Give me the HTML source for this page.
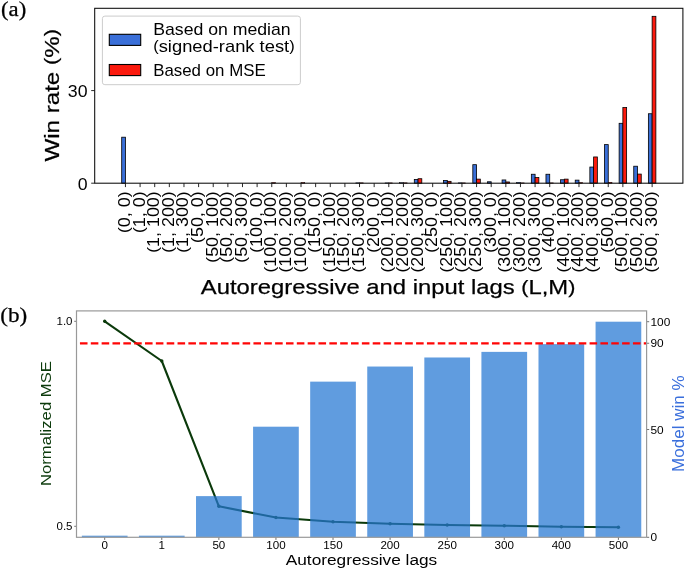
<!DOCTYPE html>
<html><head><meta charset="utf-8"><title>figure</title>
<style>html,body{margin:0;padding:0;background:#fff;}svg{display:block;will-change:transform;}</style></head>
<body><svg width="685" height="569" viewBox="0 0 685 569">
<rect x="121.70" y="137.20" width="3.75" height="46.00" fill="#3a6fd8" stroke="#000" stroke-width="0.8"/>
<rect x="271.75" y="182.58" width="3.75" height="0.62" fill="#fb1a0e" stroke="#000" stroke-width="0.5"/>
<rect x="301.01" y="182.52" width="3.75" height="0.68" fill="#fb1a0e" stroke="#000" stroke-width="0.5"/>
<rect x="355.78" y="182.83" width="3.75" height="0.37" fill="#3a6fd8" stroke="#000" stroke-width="0.5"/>
<rect x="359.53" y="182.83" width="3.75" height="0.37" fill="#fb1a0e" stroke="#000" stroke-width="0.5"/>
<rect x="385.04" y="182.89" width="3.75" height="0.31" fill="#3a6fd8" stroke="#000" stroke-width="0.5"/>
<rect x="388.79" y="182.89" width="3.75" height="0.31" fill="#fb1a0e" stroke="#000" stroke-width="0.5"/>
<rect x="399.67" y="182.74" width="3.75" height="0.46" fill="#3a6fd8" stroke="#000" stroke-width="0.5"/>
<rect x="403.42" y="182.83" width="3.75" height="0.37" fill="#fb1a0e" stroke="#000" stroke-width="0.5"/>
<rect x="414.30" y="179.50" width="3.75" height="3.70" fill="#3a6fd8" stroke="#000" stroke-width="0.8"/>
<rect x="418.05" y="178.72" width="3.75" height="4.48" fill="#fb1a0e" stroke="#000" stroke-width="0.8"/>
<rect x="443.56" y="180.55" width="3.75" height="2.65" fill="#3a6fd8" stroke="#000" stroke-width="0.8"/>
<rect x="447.31" y="181.35" width="3.75" height="1.85" fill="#fb1a0e" stroke="#000" stroke-width="0.8"/>
<rect x="458.19" y="182.83" width="3.75" height="0.37" fill="#3a6fd8" stroke="#000" stroke-width="0.5"/>
<rect x="461.94" y="182.89" width="3.75" height="0.31" fill="#fb1a0e" stroke="#000" stroke-width="0.5"/>
<rect x="472.82" y="164.68" width="3.75" height="18.52" fill="#3a6fd8" stroke="#000" stroke-width="0.8"/>
<rect x="476.57" y="179.13" width="3.75" height="4.07" fill="#fb1a0e" stroke="#000" stroke-width="0.8"/>
<rect x="487.45" y="181.78" width="3.75" height="1.42" fill="#3a6fd8" stroke="#000" stroke-width="0.8"/>
<rect x="502.08" y="179.96" width="3.75" height="3.24" fill="#3a6fd8" stroke="#000" stroke-width="0.8"/>
<rect x="505.83" y="181.97" width="3.75" height="1.23" fill="#fb1a0e" stroke="#000" stroke-width="0.8"/>
<rect x="516.71" y="182.27" width="3.75" height="0.93" fill="#3a6fd8" stroke="#000" stroke-width="0.5"/>
<rect x="520.46" y="182.89" width="3.75" height="0.31" fill="#fb1a0e" stroke="#000" stroke-width="0.5"/>
<rect x="531.34" y="174.25" width="3.75" height="8.95" fill="#3a6fd8" stroke="#000" stroke-width="0.8"/>
<rect x="535.09" y="177.49" width="3.75" height="5.71" fill="#fb1a0e" stroke="#000" stroke-width="0.8"/>
<rect x="545.97" y="174.25" width="3.75" height="8.95" fill="#3a6fd8" stroke="#000" stroke-width="0.8"/>
<rect x="549.72" y="182.89" width="3.75" height="0.31" fill="#fb1a0e" stroke="#000" stroke-width="0.5"/>
<rect x="560.60" y="179.74" width="3.75" height="3.46" fill="#3a6fd8" stroke="#000" stroke-width="0.8"/>
<rect x="564.35" y="179.13" width="3.75" height="4.07" fill="#fb1a0e" stroke="#000" stroke-width="0.8"/>
<rect x="575.23" y="180.14" width="3.75" height="3.06" fill="#3a6fd8" stroke="#000" stroke-width="0.8"/>
<rect x="578.98" y="182.58" width="3.75" height="0.62" fill="#fb1a0e" stroke="#000" stroke-width="0.5"/>
<rect x="589.86" y="167.05" width="3.75" height="16.15" fill="#3a6fd8" stroke="#000" stroke-width="0.8"/>
<rect x="593.61" y="156.96" width="3.75" height="26.24" fill="#fb1a0e" stroke="#000" stroke-width="0.8"/>
<rect x="604.49" y="144.61" width="3.75" height="38.59" fill="#3a6fd8" stroke="#000" stroke-width="0.8"/>
<rect x="608.24" y="182.27" width="3.75" height="0.93" fill="#fb1a0e" stroke="#000" stroke-width="0.5"/>
<rect x="619.12" y="123.31" width="3.75" height="59.89" fill="#3a6fd8" stroke="#000" stroke-width="0.8"/>
<rect x="622.87" y="107.57" width="3.75" height="75.63" fill="#fb1a0e" stroke="#000" stroke-width="0.8"/>
<rect x="633.75" y="166.22" width="3.75" height="16.98" fill="#3a6fd8" stroke="#000" stroke-width="0.8"/>
<rect x="637.50" y="174.09" width="3.75" height="9.11" fill="#fb1a0e" stroke="#000" stroke-width="0.8"/>
<rect x="648.38" y="113.74" width="3.75" height="69.46" fill="#3a6fd8" stroke="#000" stroke-width="0.8"/>
<rect x="652.13" y="16.32" width="3.75" height="166.88" fill="#fb1a0e" stroke="#000" stroke-width="0.8"/>
<rect x="94.7" y="8.3" width="588.20" height="174.90" fill="none" stroke="#0a0a0a" stroke-width="1.05"/>
<line x1="125.45" y1="183.2" x2="125.45" y2="187.1" stroke="#111" stroke-width="0.9"/>
<text x="0" y="0" transform="translate(129.95,191.40) rotate(-90)" font-family="Liberation Sans, sans-serif" font-size="16" text-anchor="end" fill="#000" textLength="41.66" lengthAdjust="spacingAndGlyphs"><tspan font-size="15.52" dy="-0.91">(</tspan><tspan dy="0.91">0</tspan>, 0<tspan font-size="15.52" dy="-0.91">)</tspan></text>
<line x1="140.08" y1="183.2" x2="140.08" y2="187.1" stroke="#111" stroke-width="0.9"/>
<text x="0" y="0" transform="translate(144.58,191.40) rotate(-90)" font-family="Liberation Sans, sans-serif" font-size="16" text-anchor="end" fill="#000" textLength="41.66" lengthAdjust="spacingAndGlyphs"><tspan font-size="15.52" dy="-0.91">(</tspan><tspan dy="0.91">1</tspan>, 0<tspan font-size="15.52" dy="-0.91">)</tspan></text>
<line x1="154.71" y1="183.2" x2="154.71" y2="187.1" stroke="#111" stroke-width="0.9"/>
<text x="0" y="0" transform="translate(159.21,191.40) rotate(-90)" font-family="Liberation Sans, sans-serif" font-size="16" text-anchor="end" fill="#000" textLength="61.38" lengthAdjust="spacingAndGlyphs"><tspan font-size="15.52" dy="-0.91">(</tspan><tspan dy="0.91">1</tspan>, 100<tspan font-size="15.52" dy="-0.91">)</tspan></text>
<line x1="169.34" y1="183.2" x2="169.34" y2="187.1" stroke="#111" stroke-width="0.9"/>
<text x="0" y="0" transform="translate(173.84,191.40) rotate(-90)" font-family="Liberation Sans, sans-serif" font-size="16" text-anchor="end" fill="#000" textLength="61.38" lengthAdjust="spacingAndGlyphs"><tspan font-size="15.52" dy="-0.91">(</tspan><tspan dy="0.91">1</tspan>, 200<tspan font-size="15.52" dy="-0.91">)</tspan></text>
<line x1="183.97" y1="183.2" x2="183.97" y2="187.1" stroke="#111" stroke-width="0.9"/>
<text x="0" y="0" transform="translate(188.47,191.40) rotate(-90)" font-family="Liberation Sans, sans-serif" font-size="16" text-anchor="end" fill="#000" textLength="61.38" lengthAdjust="spacingAndGlyphs"><tspan font-size="15.52" dy="-0.91">(</tspan><tspan dy="0.91">1</tspan>, 300<tspan font-size="15.52" dy="-0.91">)</tspan></text>
<line x1="198.60" y1="183.2" x2="198.60" y2="187.1" stroke="#111" stroke-width="0.9"/>
<text x="0" y="0" transform="translate(203.10,191.40) rotate(-90)" font-family="Liberation Sans, sans-serif" font-size="16" text-anchor="end" fill="#000" textLength="51.52" lengthAdjust="spacingAndGlyphs"><tspan font-size="15.52" dy="-0.91">(</tspan><tspan dy="0.91">5</tspan>0, 0<tspan font-size="15.52" dy="-0.91">)</tspan></text>
<line x1="213.23" y1="183.2" x2="213.23" y2="187.1" stroke="#111" stroke-width="0.9"/>
<text x="0" y="0" transform="translate(217.73,191.40) rotate(-90)" font-family="Liberation Sans, sans-serif" font-size="16" text-anchor="end" fill="#000" textLength="71.24" lengthAdjust="spacingAndGlyphs"><tspan font-size="15.52" dy="-0.91">(</tspan><tspan dy="0.91">5</tspan>0, 100<tspan font-size="15.52" dy="-0.91">)</tspan></text>
<line x1="227.86" y1="183.2" x2="227.86" y2="187.1" stroke="#111" stroke-width="0.9"/>
<text x="0" y="0" transform="translate(232.36,191.40) rotate(-90)" font-family="Liberation Sans, sans-serif" font-size="16" text-anchor="end" fill="#000" textLength="71.24" lengthAdjust="spacingAndGlyphs"><tspan font-size="15.52" dy="-0.91">(</tspan><tspan dy="0.91">5</tspan>0, 200<tspan font-size="15.52" dy="-0.91">)</tspan></text>
<line x1="242.49" y1="183.2" x2="242.49" y2="187.1" stroke="#111" stroke-width="0.9"/>
<text x="0" y="0" transform="translate(246.99,191.40) rotate(-90)" font-family="Liberation Sans, sans-serif" font-size="16" text-anchor="end" fill="#000" textLength="71.24" lengthAdjust="spacingAndGlyphs"><tspan font-size="15.52" dy="-0.91">(</tspan><tspan dy="0.91">5</tspan>0, 300<tspan font-size="15.52" dy="-0.91">)</tspan></text>
<line x1="257.12" y1="183.2" x2="257.12" y2="187.1" stroke="#111" stroke-width="0.9"/>
<text x="0" y="0" transform="translate(261.62,191.40) rotate(-90)" font-family="Liberation Sans, sans-serif" font-size="16" text-anchor="end" fill="#000" textLength="61.38" lengthAdjust="spacingAndGlyphs"><tspan font-size="15.52" dy="-0.91">(</tspan><tspan dy="0.91">1</tspan>00, 0<tspan font-size="15.52" dy="-0.91">)</tspan></text>
<line x1="271.75" y1="183.2" x2="271.75" y2="187.1" stroke="#111" stroke-width="0.9"/>
<text x="0" y="0" transform="translate(276.25,191.40) rotate(-90)" font-family="Liberation Sans, sans-serif" font-size="16" text-anchor="end" fill="#000" textLength="81.10" lengthAdjust="spacingAndGlyphs"><tspan font-size="15.52" dy="-0.91">(</tspan><tspan dy="0.91">1</tspan>00, 100<tspan font-size="15.52" dy="-0.91">)</tspan></text>
<line x1="286.38" y1="183.2" x2="286.38" y2="187.1" stroke="#111" stroke-width="0.9"/>
<text x="0" y="0" transform="translate(290.88,191.40) rotate(-90)" font-family="Liberation Sans, sans-serif" font-size="16" text-anchor="end" fill="#000" textLength="81.10" lengthAdjust="spacingAndGlyphs"><tspan font-size="15.52" dy="-0.91">(</tspan><tspan dy="0.91">1</tspan>00, 200<tspan font-size="15.52" dy="-0.91">)</tspan></text>
<line x1="301.01" y1="183.2" x2="301.01" y2="187.1" stroke="#111" stroke-width="0.9"/>
<text x="0" y="0" transform="translate(305.51,191.40) rotate(-90)" font-family="Liberation Sans, sans-serif" font-size="16" text-anchor="end" fill="#000" textLength="81.10" lengthAdjust="spacingAndGlyphs"><tspan font-size="15.52" dy="-0.91">(</tspan><tspan dy="0.91">1</tspan>00, 300<tspan font-size="15.52" dy="-0.91">)</tspan></text>
<line x1="315.64" y1="183.2" x2="315.64" y2="187.1" stroke="#111" stroke-width="0.9"/>
<text x="0" y="0" transform="translate(320.14,191.40) rotate(-90)" font-family="Liberation Sans, sans-serif" font-size="16" text-anchor="end" fill="#000" textLength="61.38" lengthAdjust="spacingAndGlyphs"><tspan font-size="15.52" dy="-0.91">(</tspan><tspan dy="0.91">1</tspan>50, 0<tspan font-size="15.52" dy="-0.91">)</tspan></text>
<line x1="330.27" y1="183.2" x2="330.27" y2="187.1" stroke="#111" stroke-width="0.9"/>
<text x="0" y="0" transform="translate(334.77,191.40) rotate(-90)" font-family="Liberation Sans, sans-serif" font-size="16" text-anchor="end" fill="#000" textLength="81.10" lengthAdjust="spacingAndGlyphs"><tspan font-size="15.52" dy="-0.91">(</tspan><tspan dy="0.91">1</tspan>50, 100<tspan font-size="15.52" dy="-0.91">)</tspan></text>
<line x1="344.90" y1="183.2" x2="344.90" y2="187.1" stroke="#111" stroke-width="0.9"/>
<text x="0" y="0" transform="translate(349.40,191.40) rotate(-90)" font-family="Liberation Sans, sans-serif" font-size="16" text-anchor="end" fill="#000" textLength="81.10" lengthAdjust="spacingAndGlyphs"><tspan font-size="15.52" dy="-0.91">(</tspan><tspan dy="0.91">1</tspan>50, 200<tspan font-size="15.52" dy="-0.91">)</tspan></text>
<line x1="359.53" y1="183.2" x2="359.53" y2="187.1" stroke="#111" stroke-width="0.9"/>
<text x="0" y="0" transform="translate(364.03,191.40) rotate(-90)" font-family="Liberation Sans, sans-serif" font-size="16" text-anchor="end" fill="#000" textLength="81.10" lengthAdjust="spacingAndGlyphs"><tspan font-size="15.52" dy="-0.91">(</tspan><tspan dy="0.91">1</tspan>50, 300<tspan font-size="15.52" dy="-0.91">)</tspan></text>
<line x1="374.16" y1="183.2" x2="374.16" y2="187.1" stroke="#111" stroke-width="0.9"/>
<text x="0" y="0" transform="translate(378.66,191.40) rotate(-90)" font-family="Liberation Sans, sans-serif" font-size="16" text-anchor="end" fill="#000" textLength="61.38" lengthAdjust="spacingAndGlyphs"><tspan font-size="15.52" dy="-0.91">(</tspan><tspan dy="0.91">2</tspan>00, 0<tspan font-size="15.52" dy="-0.91">)</tspan></text>
<line x1="388.79" y1="183.2" x2="388.79" y2="187.1" stroke="#111" stroke-width="0.9"/>
<text x="0" y="0" transform="translate(393.29,191.40) rotate(-90)" font-family="Liberation Sans, sans-serif" font-size="16" text-anchor="end" fill="#000" textLength="81.10" lengthAdjust="spacingAndGlyphs"><tspan font-size="15.52" dy="-0.91">(</tspan><tspan dy="0.91">2</tspan>00, 100<tspan font-size="15.52" dy="-0.91">)</tspan></text>
<line x1="403.42" y1="183.2" x2="403.42" y2="187.1" stroke="#111" stroke-width="0.9"/>
<text x="0" y="0" transform="translate(407.92,191.40) rotate(-90)" font-family="Liberation Sans, sans-serif" font-size="16" text-anchor="end" fill="#000" textLength="81.10" lengthAdjust="spacingAndGlyphs"><tspan font-size="15.52" dy="-0.91">(</tspan><tspan dy="0.91">2</tspan>00, 200<tspan font-size="15.52" dy="-0.91">)</tspan></text>
<line x1="418.05" y1="183.2" x2="418.05" y2="187.1" stroke="#111" stroke-width="0.9"/>
<text x="0" y="0" transform="translate(422.55,191.40) rotate(-90)" font-family="Liberation Sans, sans-serif" font-size="16" text-anchor="end" fill="#000" textLength="81.10" lengthAdjust="spacingAndGlyphs"><tspan font-size="15.52" dy="-0.91">(</tspan><tspan dy="0.91">2</tspan>00, 300<tspan font-size="15.52" dy="-0.91">)</tspan></text>
<line x1="432.68" y1="183.2" x2="432.68" y2="187.1" stroke="#111" stroke-width="0.9"/>
<text x="0" y="0" transform="translate(437.18,191.40) rotate(-90)" font-family="Liberation Sans, sans-serif" font-size="16" text-anchor="end" fill="#000" textLength="61.38" lengthAdjust="spacingAndGlyphs"><tspan font-size="15.52" dy="-0.91">(</tspan><tspan dy="0.91">2</tspan>50, 0<tspan font-size="15.52" dy="-0.91">)</tspan></text>
<line x1="447.31" y1="183.2" x2="447.31" y2="187.1" stroke="#111" stroke-width="0.9"/>
<text x="0" y="0" transform="translate(451.81,191.40) rotate(-90)" font-family="Liberation Sans, sans-serif" font-size="16" text-anchor="end" fill="#000" textLength="81.10" lengthAdjust="spacingAndGlyphs"><tspan font-size="15.52" dy="-0.91">(</tspan><tspan dy="0.91">2</tspan>50, 100<tspan font-size="15.52" dy="-0.91">)</tspan></text>
<line x1="461.94" y1="183.2" x2="461.94" y2="187.1" stroke="#111" stroke-width="0.9"/>
<text x="0" y="0" transform="translate(466.44,191.40) rotate(-90)" font-family="Liberation Sans, sans-serif" font-size="16" text-anchor="end" fill="#000" textLength="81.10" lengthAdjust="spacingAndGlyphs"><tspan font-size="15.52" dy="-0.91">(</tspan><tspan dy="0.91">2</tspan>50, 200<tspan font-size="15.52" dy="-0.91">)</tspan></text>
<line x1="476.57" y1="183.2" x2="476.57" y2="187.1" stroke="#111" stroke-width="0.9"/>
<text x="0" y="0" transform="translate(481.07,191.40) rotate(-90)" font-family="Liberation Sans, sans-serif" font-size="16" text-anchor="end" fill="#000" textLength="81.10" lengthAdjust="spacingAndGlyphs"><tspan font-size="15.52" dy="-0.91">(</tspan><tspan dy="0.91">2</tspan>50, 300<tspan font-size="15.52" dy="-0.91">)</tspan></text>
<line x1="491.20" y1="183.2" x2="491.20" y2="187.1" stroke="#111" stroke-width="0.9"/>
<text x="0" y="0" transform="translate(495.70,191.40) rotate(-90)" font-family="Liberation Sans, sans-serif" font-size="16" text-anchor="end" fill="#000" textLength="61.38" lengthAdjust="spacingAndGlyphs"><tspan font-size="15.52" dy="-0.91">(</tspan><tspan dy="0.91">3</tspan>00, 0<tspan font-size="15.52" dy="-0.91">)</tspan></text>
<line x1="505.83" y1="183.2" x2="505.83" y2="187.1" stroke="#111" stroke-width="0.9"/>
<text x="0" y="0" transform="translate(510.33,191.40) rotate(-90)" font-family="Liberation Sans, sans-serif" font-size="16" text-anchor="end" fill="#000" textLength="81.10" lengthAdjust="spacingAndGlyphs"><tspan font-size="15.52" dy="-0.91">(</tspan><tspan dy="0.91">3</tspan>00, 100<tspan font-size="15.52" dy="-0.91">)</tspan></text>
<line x1="520.46" y1="183.2" x2="520.46" y2="187.1" stroke="#111" stroke-width="0.9"/>
<text x="0" y="0" transform="translate(524.96,191.40) rotate(-90)" font-family="Liberation Sans, sans-serif" font-size="16" text-anchor="end" fill="#000" textLength="81.10" lengthAdjust="spacingAndGlyphs"><tspan font-size="15.52" dy="-0.91">(</tspan><tspan dy="0.91">3</tspan>00, 200<tspan font-size="15.52" dy="-0.91">)</tspan></text>
<line x1="535.09" y1="183.2" x2="535.09" y2="187.1" stroke="#111" stroke-width="0.9"/>
<text x="0" y="0" transform="translate(539.59,191.40) rotate(-90)" font-family="Liberation Sans, sans-serif" font-size="16" text-anchor="end" fill="#000" textLength="81.10" lengthAdjust="spacingAndGlyphs"><tspan font-size="15.52" dy="-0.91">(</tspan><tspan dy="0.91">3</tspan>00, 300<tspan font-size="15.52" dy="-0.91">)</tspan></text>
<line x1="549.72" y1="183.2" x2="549.72" y2="187.1" stroke="#111" stroke-width="0.9"/>
<text x="0" y="0" transform="translate(554.22,191.40) rotate(-90)" font-family="Liberation Sans, sans-serif" font-size="16" text-anchor="end" fill="#000" textLength="61.38" lengthAdjust="spacingAndGlyphs"><tspan font-size="15.52" dy="-0.91">(</tspan><tspan dy="0.91">4</tspan>00, 0<tspan font-size="15.52" dy="-0.91">)</tspan></text>
<line x1="564.35" y1="183.2" x2="564.35" y2="187.1" stroke="#111" stroke-width="0.9"/>
<text x="0" y="0" transform="translate(568.85,191.40) rotate(-90)" font-family="Liberation Sans, sans-serif" font-size="16" text-anchor="end" fill="#000" textLength="81.10" lengthAdjust="spacingAndGlyphs"><tspan font-size="15.52" dy="-0.91">(</tspan><tspan dy="0.91">4</tspan>00, 100<tspan font-size="15.52" dy="-0.91">)</tspan></text>
<line x1="578.98" y1="183.2" x2="578.98" y2="187.1" stroke="#111" stroke-width="0.9"/>
<text x="0" y="0" transform="translate(583.48,191.40) rotate(-90)" font-family="Liberation Sans, sans-serif" font-size="16" text-anchor="end" fill="#000" textLength="81.10" lengthAdjust="spacingAndGlyphs"><tspan font-size="15.52" dy="-0.91">(</tspan><tspan dy="0.91">4</tspan>00, 200<tspan font-size="15.52" dy="-0.91">)</tspan></text>
<line x1="593.61" y1="183.2" x2="593.61" y2="187.1" stroke="#111" stroke-width="0.9"/>
<text x="0" y="0" transform="translate(598.11,191.40) rotate(-90)" font-family="Liberation Sans, sans-serif" font-size="16" text-anchor="end" fill="#000" textLength="81.10" lengthAdjust="spacingAndGlyphs"><tspan font-size="15.52" dy="-0.91">(</tspan><tspan dy="0.91">4</tspan>00, 300<tspan font-size="15.52" dy="-0.91">)</tspan></text>
<line x1="608.24" y1="183.2" x2="608.24" y2="187.1" stroke="#111" stroke-width="0.9"/>
<text x="0" y="0" transform="translate(612.74,191.40) rotate(-90)" font-family="Liberation Sans, sans-serif" font-size="16" text-anchor="end" fill="#000" textLength="61.38" lengthAdjust="spacingAndGlyphs"><tspan font-size="15.52" dy="-0.91">(</tspan><tspan dy="0.91">5</tspan>00, 0<tspan font-size="15.52" dy="-0.91">)</tspan></text>
<line x1="622.87" y1="183.2" x2="622.87" y2="187.1" stroke="#111" stroke-width="0.9"/>
<text x="0" y="0" transform="translate(627.37,191.40) rotate(-90)" font-family="Liberation Sans, sans-serif" font-size="16" text-anchor="end" fill="#000" textLength="81.10" lengthAdjust="spacingAndGlyphs"><tspan font-size="15.52" dy="-0.91">(</tspan><tspan dy="0.91">5</tspan>00, 100<tspan font-size="15.52" dy="-0.91">)</tspan></text>
<line x1="637.50" y1="183.2" x2="637.50" y2="187.1" stroke="#111" stroke-width="0.9"/>
<text x="0" y="0" transform="translate(642.00,191.40) rotate(-90)" font-family="Liberation Sans, sans-serif" font-size="16" text-anchor="end" fill="#000" textLength="81.10" lengthAdjust="spacingAndGlyphs"><tspan font-size="15.52" dy="-0.91">(</tspan><tspan dy="0.91">5</tspan>00, 200<tspan font-size="15.52" dy="-0.91">)</tspan></text>
<line x1="652.13" y1="183.2" x2="652.13" y2="187.1" stroke="#111" stroke-width="0.9"/>
<text x="0" y="0" transform="translate(656.63,191.40) rotate(-90)" font-family="Liberation Sans, sans-serif" font-size="16" text-anchor="end" fill="#000" textLength="81.10" lengthAdjust="spacingAndGlyphs"><tspan font-size="15.52" dy="-0.91">(</tspan><tspan dy="0.91">5</tspan>00, 300<tspan font-size="15.52" dy="-0.91">)</tspan></text>
<line x1="91.2" y1="183.20" x2="94.7" y2="183.20" stroke="#111" stroke-width="0.9"/>
<text x="87.50" y="190.30" font-family="Liberation Sans, sans-serif" font-size="16.7" text-anchor="end" fill="#000" textLength="9.85" lengthAdjust="spacingAndGlyphs">0</text>
<line x1="91.2" y1="90.59" x2="94.7" y2="90.59" stroke="#111" stroke-width="0.9"/>
<text x="87.50" y="96.69" font-family="Liberation Sans, sans-serif" font-size="16.7" text-anchor="end" fill="#000" textLength="19.70" lengthAdjust="spacingAndGlyphs">30</text>
<text x="0" y="0" transform="translate(58.70,95.30) rotate(-90)" font-family="Liberation Sans, sans-serif" font-size="21" text-anchor="middle" fill="#000" textLength="132.50" lengthAdjust="spacingAndGlyphs" stroke="#000" stroke-width="0.25">Win rate <tspan font-size="18.90" dy="-1.57">(</tspan><tspan dy="1.57">%</tspan><tspan font-size="18.90" dy="-1.57">)</tspan></text>
<text x="388.10" y="294.20" font-family="Liberation Sans, sans-serif" font-size="21" text-anchor="middle" fill="#000" textLength="374.50" lengthAdjust="spacingAndGlyphs" stroke="#000" stroke-width="0.25">Autoregressive and input lags <tspan font-size="18.90" dy="-1.57">(</tspan><tspan dy="1.57">L</tspan>,M<tspan font-size="18.90" dy="-1.57">)</tspan></text>
<rect x="102.4" y="16.1" width="198" height="68.6" rx="2.5" ry="2.5" fill="#fff" fill-opacity="0.8" stroke="#ccc" stroke-width="1"/>
<rect x="109.3" y="34.3" width="31.4" height="11.1" fill="#3a6fd8" stroke="#000" stroke-width="1.1"/>
<rect x="109.3" y="64.5" width="31.4" height="11.1" fill="#fb1a0e" stroke="#000" stroke-width="1.1"/>
<text x="153.20" y="34.90" font-family="Liberation Sans, sans-serif" font-size="16.4" text-anchor="start" fill="#000" textLength="137.50" lengthAdjust="spacingAndGlyphs">Based on median</text>
<text x="153.20" y="52.40" font-family="Liberation Sans, sans-serif" font-size="16.4" text-anchor="start" fill="#000" textLength="141.50" lengthAdjust="spacingAndGlyphs"><tspan font-size="14.76" dy="-1.23">(</tspan><tspan dy="1.23">s</tspan>igned-rank test<tspan font-size="14.76" dy="-1.23">)</tspan></text>
<text x="153.20" y="75.70" font-family="Liberation Sans, sans-serif" font-size="16.4" text-anchor="start" fill="#000" textLength="112.50" lengthAdjust="spacingAndGlyphs">Based on MSE</text>
<text x="1.00" y="16.10" font-family="Liberation Serif, serif" font-size="20" text-anchor="start" fill="#000" textLength="25.20" lengthAdjust="spacingAndGlyphs" stroke="#000" stroke-width="0.25">(a)</text>
<text x="0.20" y="322.40" font-family="Liberation Serif, serif" font-size="20" text-anchor="start" fill="#000" textLength="27.00" lengthAdjust="spacingAndGlyphs" stroke="#000" stroke-width="0.25">(b)</text>
<path d="M104.70,321.30 L161.78,361.00 L218.86,506.30 L275.94,517.50 L333.02,521.80 L390.10,523.80 L447.18,525.00 L504.26,525.70 L561.34,526.70 L618.42,527.20" fill="none" stroke="#0b3a0b" stroke-width="2.1" stroke-linejoin="round" stroke-linecap="butt"/>
<circle cx="104.70" cy="321.30" r="1.7" fill="#0b3a0b"/>
<circle cx="161.78" cy="361.00" r="1.7" fill="#0b3a0b"/>
<circle cx="218.86" cy="506.30" r="1.7" fill="#0b3a0b"/>
<circle cx="275.94" cy="517.50" r="1.7" fill="#0b3a0b"/>
<circle cx="333.02" cy="521.80" r="1.7" fill="#0b3a0b"/>
<circle cx="390.10" cy="523.80" r="1.7" fill="#0b3a0b"/>
<circle cx="447.18" cy="525.00" r="1.7" fill="#0b3a0b"/>
<circle cx="504.26" cy="525.70" r="1.7" fill="#0b3a0b"/>
<circle cx="561.34" cy="526.70" r="1.7" fill="#0b3a0b"/>
<circle cx="618.42" cy="527.20" r="1.7" fill="#0b3a0b"/>
<rect x="81.85" y="535.68" width="45.70" height="1.62" fill="#2577d3" fill-opacity="0.73"/>
<rect x="138.93" y="535.68" width="45.70" height="1.62" fill="#2577d3" fill-opacity="0.73"/>
<rect x="196.01" y="496.12" width="45.70" height="41.18" fill="#2577d3" fill-opacity="0.73"/>
<rect x="253.09" y="426.70" width="45.70" height="110.60" fill="#2577d3" fill-opacity="0.73"/>
<rect x="310.17" y="381.64" width="45.70" height="155.66" fill="#2577d3" fill-opacity="0.73"/>
<rect x="367.25" y="366.54" width="45.70" height="170.76" fill="#2577d3" fill-opacity="0.73"/>
<rect x="424.33" y="357.49" width="45.70" height="179.81" fill="#2577d3" fill-opacity="0.73"/>
<rect x="481.41" y="351.88" width="45.70" height="185.42" fill="#2577d3" fill-opacity="0.73"/>
<rect x="538.49" y="344.12" width="45.70" height="193.18" fill="#2577d3" fill-opacity="0.73"/>
<rect x="595.57" y="321.70" width="45.70" height="215.60" fill="#2577d3" fill-opacity="0.73"/>
<line x1="76.5" y1="343.35" x2="646.6" y2="343.35" stroke="#ff0505" stroke-width="2.15" stroke-dasharray="7.57 3.273" stroke-dashoffset="7.393"/>
<rect x="76.5" y="310.9" width="570.10" height="226.40" fill="none" stroke="#999" stroke-width="1.2"/>
<line x1="104.70" y1="537.8" x2="104.70" y2="539.9" stroke="#333" stroke-width="0.7"/>
<text x="104.70" y="549.10" font-family="Liberation Sans, sans-serif" font-size="10.3" text-anchor="middle" fill="#000" textLength="6.45" lengthAdjust="spacingAndGlyphs">0</text>
<line x1="161.78" y1="537.8" x2="161.78" y2="539.9" stroke="#333" stroke-width="0.7"/>
<text x="161.78" y="549.10" font-family="Liberation Sans, sans-serif" font-size="10.3" text-anchor="middle" fill="#000" textLength="6.45" lengthAdjust="spacingAndGlyphs">1</text>
<line x1="218.86" y1="537.8" x2="218.86" y2="539.9" stroke="#333" stroke-width="0.7"/>
<text x="218.86" y="549.10" font-family="Liberation Sans, sans-serif" font-size="10.3" text-anchor="middle" fill="#000" textLength="12.90" lengthAdjust="spacingAndGlyphs">50</text>
<line x1="275.94" y1="537.8" x2="275.94" y2="539.9" stroke="#333" stroke-width="0.7"/>
<text x="275.94" y="549.10" font-family="Liberation Sans, sans-serif" font-size="10.3" text-anchor="middle" fill="#000" textLength="19.35" lengthAdjust="spacingAndGlyphs">100</text>
<line x1="333.02" y1="537.8" x2="333.02" y2="539.9" stroke="#333" stroke-width="0.7"/>
<text x="333.02" y="549.10" font-family="Liberation Sans, sans-serif" font-size="10.3" text-anchor="middle" fill="#000" textLength="19.35" lengthAdjust="spacingAndGlyphs">150</text>
<line x1="390.10" y1="537.8" x2="390.10" y2="539.9" stroke="#333" stroke-width="0.7"/>
<text x="390.10" y="549.10" font-family="Liberation Sans, sans-serif" font-size="10.3" text-anchor="middle" fill="#000" textLength="19.35" lengthAdjust="spacingAndGlyphs">200</text>
<line x1="447.18" y1="537.8" x2="447.18" y2="539.9" stroke="#333" stroke-width="0.7"/>
<text x="447.18" y="549.10" font-family="Liberation Sans, sans-serif" font-size="10.3" text-anchor="middle" fill="#000" textLength="19.35" lengthAdjust="spacingAndGlyphs">250</text>
<line x1="504.26" y1="537.8" x2="504.26" y2="539.9" stroke="#333" stroke-width="0.7"/>
<text x="504.26" y="549.10" font-family="Liberation Sans, sans-serif" font-size="10.3" text-anchor="middle" fill="#000" textLength="19.35" lengthAdjust="spacingAndGlyphs">300</text>
<line x1="561.34" y1="537.8" x2="561.34" y2="539.9" stroke="#333" stroke-width="0.7"/>
<text x="561.34" y="549.10" font-family="Liberation Sans, sans-serif" font-size="10.3" text-anchor="middle" fill="#000" textLength="19.35" lengthAdjust="spacingAndGlyphs">400</text>
<line x1="618.42" y1="537.8" x2="618.42" y2="539.9" stroke="#333" stroke-width="0.7"/>
<text x="618.42" y="549.10" font-family="Liberation Sans, sans-serif" font-size="10.3" text-anchor="middle" fill="#000" textLength="19.35" lengthAdjust="spacingAndGlyphs">500</text>
<line x1="74.2" y1="321.3" x2="76.0" y2="321.3" stroke="#444" stroke-width="0.7"/>
<text x="72.50" y="325.45" font-family="Liberation Sans, sans-serif" font-size="10.3" text-anchor="end" fill="#000" textLength="16.00" lengthAdjust="spacingAndGlyphs">1.0</text>
<line x1="74.2" y1="526.3" x2="76.0" y2="526.3" stroke="#444" stroke-width="0.7"/>
<text x="72.50" y="530.45" font-family="Liberation Sans, sans-serif" font-size="10.3" text-anchor="end" fill="#000" textLength="16.00" lengthAdjust="spacingAndGlyphs">0.5</text>
<line x1="647.1" y1="537.30" x2="649.2" y2="537.30" stroke="#333" stroke-width="0.7"/>
<text x="650.50" y="541.40" font-family="Liberation Sans, sans-serif" font-size="10.3" text-anchor="start" fill="#000" textLength="6.60" lengthAdjust="spacingAndGlyphs">0</text>
<line x1="647.1" y1="429.50" x2="649.2" y2="429.50" stroke="#333" stroke-width="0.7"/>
<text x="650.50" y="433.60" font-family="Liberation Sans, sans-serif" font-size="10.3" text-anchor="start" fill="#000" textLength="13.20" lengthAdjust="spacingAndGlyphs">50</text>
<line x1="647.1" y1="343.26" x2="649.2" y2="343.26" stroke="#333" stroke-width="0.7"/>
<text x="650.50" y="347.36" font-family="Liberation Sans, sans-serif" font-size="10.3" text-anchor="start" fill="#000" textLength="13.20" lengthAdjust="spacingAndGlyphs">90</text>
<line x1="647.1" y1="321.70" x2="649.2" y2="321.70" stroke="#333" stroke-width="0.7"/>
<text x="650.50" y="325.80" font-family="Liberation Sans, sans-serif" font-size="10.3" text-anchor="start" fill="#000" textLength="19.80" lengthAdjust="spacingAndGlyphs">100</text>
<text x="0" y="0" transform="translate(51.20,423.60) rotate(-90)" font-family="Liberation Sans, sans-serif" font-size="15.4" text-anchor="middle" fill="#0b3a0b" textLength="125.00" lengthAdjust="spacingAndGlyphs">Normalized MSE</text>
<text x="0" y="0" transform="translate(683.80,423.70) rotate(-90)" font-family="Liberation Sans, sans-serif" font-size="15.7" text-anchor="middle" fill="#3a6fdc" textLength="96.50" lengthAdjust="spacingAndGlyphs">Model win %</text>
<text x="361.50" y="564.70" font-family="Liberation Sans, sans-serif" font-size="15.5" text-anchor="middle" fill="#000" textLength="151.50" lengthAdjust="spacingAndGlyphs">Autoregressive lags</text>
</svg></body></html>
